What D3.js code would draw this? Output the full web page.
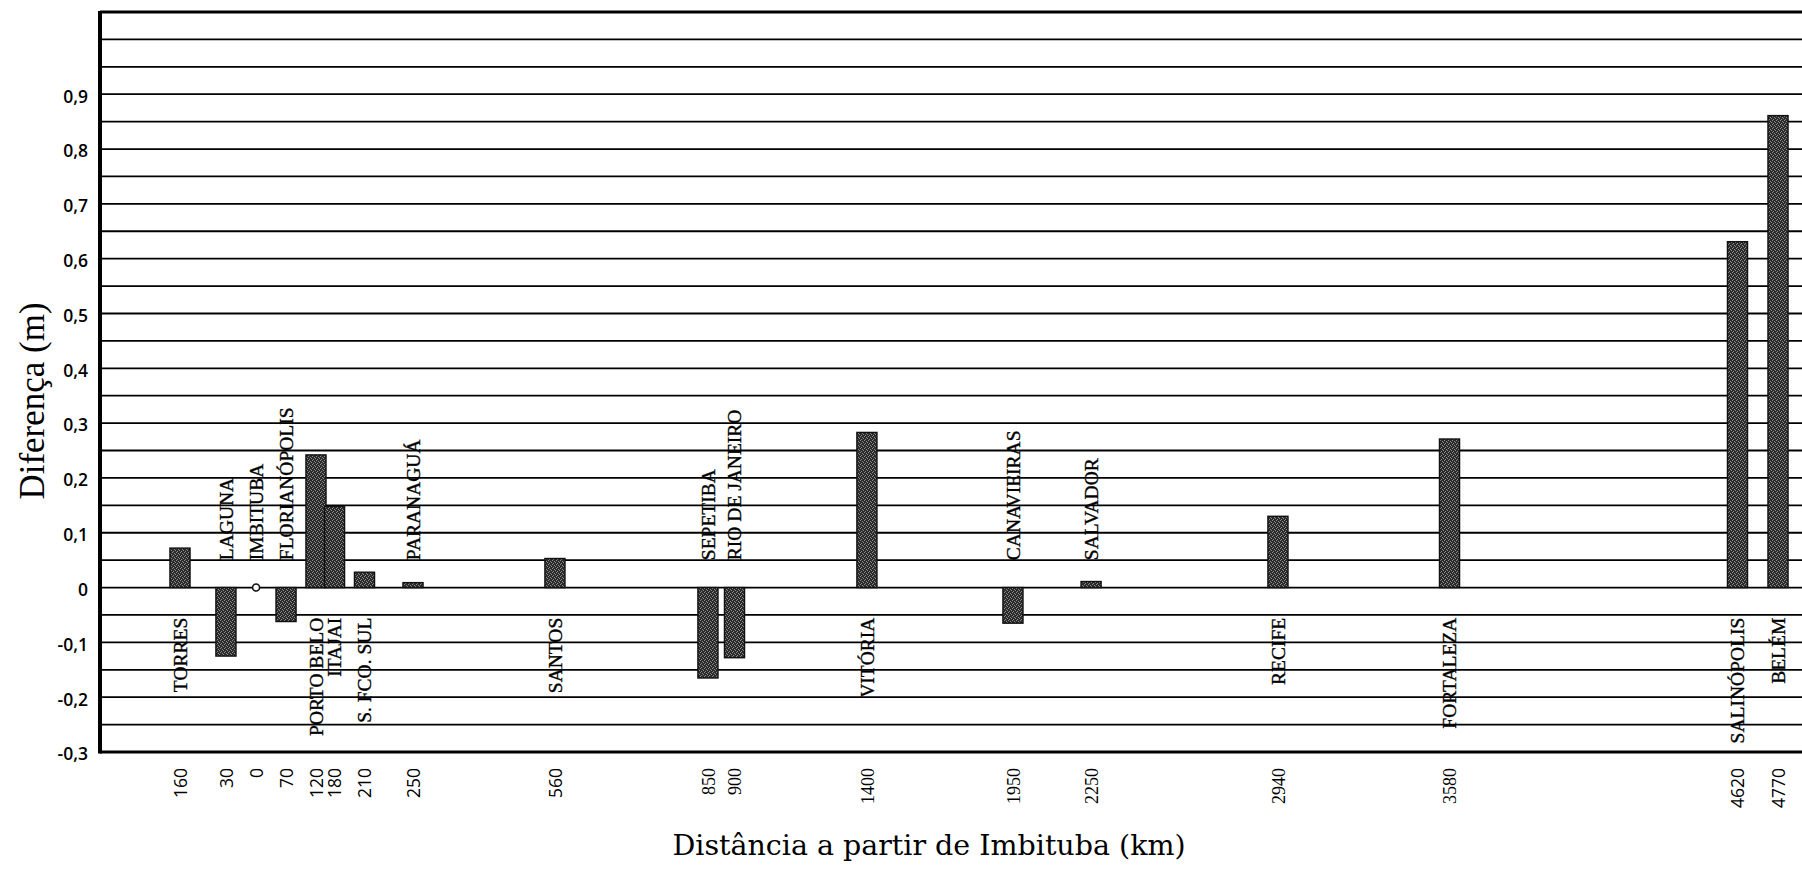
<!DOCTYPE html>
<html>
<head>
<meta charset="utf-8">
<script src="https://cdn.jsdelivr.net/npm/d3@7"></script>
<style>
  html, body { margin: 0; padding: 0; background: #fff; }
  svg { display: block; }
</style>
</head>
<body>
<svg id="chart" width="1802" height="874"></svg>
<script>
// ---------------- DATA ----------------
const stations = ["TORRES", "LAGUNA", "IMBITUBA", "FLORIANÓPOLIS", "PORTO BELO", "ITAJAI",
  "S. FCO. SUL", "PARANAGUÁ", "SANTOS", "SEPETIBA", "RIO DE JANEIRO", "VITÓRIA",
  "CANAVIEIRAS", "SALVADOR", "RECIFE", "FORTALEZA", "SALINÓPOLIS", "BELÉM"];
const distanceLabels = ["160", "30", "0", "70", "120", "180", "210", "250", "560", "850",
  "900", "1400", "1950", "2250", "2940", "3580", "4620", "4770"];
const differences = [0.072, -0.125, 0, -0.062, 0.242, 0.148, 0.028, 0.009, 0.053, -0.165,
  -0.128, 0.283, -0.065, 0.011, 0.130, 0.271, 0.631, 0.861];
// position of each station along the (non-linear) distance axis, in % of the axis length
const axisTrack = [4.7, 7.4, 9.17, 10.93, 12.69, 13.78, 15.54, 18.39, 26.73, 35.72,
  37.28, 45.06, 53.64, 58.23, 69.21, 79.29, 96.21, 98.59];
const yTickValues = [-0.3, -0.2, -0.1, 0, 0.1, 0.2, 0.3, 0.4, 0.5, 0.6, 0.7, 0.8, 0.9];
const serifDistanceLabels = ["850", "900", "1400", "1950", "2250", "2940", "3580"];
const yTitle = "Diferença (m)";
const xTitle = "Distância a partir de Imbituba (km)";

// ---------------- CHART ----------------
(function () {
const svg = d3.select("#chart");
const mLeft = 100, mRight = 1802, mTop = 12, mBottom = 752;

const x = d3.scaleLinear().domain([0, 100]).range([mLeft, mRight]);
const y = d3.scaleLinear().domain([-0.3, 1.05]).range([mBottom, mTop]);

const data = stations.map((s, i) => ({
  name: s, dist: distanceLabels[i], value: differences[i], pos: axisTrack[i]
}));

// texture for bars
const defs = svg.append("defs");
const pat = defs.append("pattern").attr("id", "stipple")
  .attr("width", 4).attr("height", 4).attr("patternUnits", "userSpaceOnUse");
pat.append("rect").attr("width", 4).attr("height", 4).attr("fill", "#2b2b2b");
[[0, 0], [2, 1], [1, 3], [3, 2]].forEach(([a, b]) =>
  pat.append("rect").attr("x", a).attr("y", b).attr("width", 1).attr("height", 1).attr("fill", "#8c8c8c"));

// gridlines every 0.05
const gridVals = d3.range(-0.25, 1.0001, 0.05).map(v => Math.round(v * 100) / 100);
svg.append("g").selectAll("line").data(gridVals).join("line")
  .attr("x1", mLeft).attr("x2", mRight)
  .attr("y1", d => y(d)).attr("y2", d => y(d))
  .attr("stroke", "#000").attr("stroke-width", 1.8);

// bars
const bw = x(1.18) - x(0);
svg.append("g").selectAll("rect").data(data.filter(d => d.value !== 0)).join("rect")
  .attr("x", d => x(d.pos) - bw / 2)
  .attr("width", bw)
  .attr("y", d => Math.min(y(d.value), y(0)))
  .attr("height", d => Math.abs(y(d.value) - y(0)))
  .attr("fill", "url(#stipple)")
  .attr("stroke", "#111").attr("stroke-width", 1.4);

// zero-valued station marker
svg.append("g").selectAll("circle").data(data.filter(d => d.value === 0)).join("circle")
  .attr("cx", d => x(d.pos)).attr("cy", y(0)).attr("r", 3.5)
  .attr("fill", "#fff").attr("stroke", "#111").attr("stroke-width", 1.6);

// station name labels
svg.append("g").selectAll("text").data(data).join("text")
  .attr("transform", d => d.value < 0.02
      ? `translate(${x(d.pos)},${y(0.05)}) rotate(-90)`
      : `translate(${x(d.pos)},${y(-0.055)}) rotate(-90)`)
  .attr("text-anchor", d => d.value < 0.02 ? "start" : "end")
  .attr("dy", "0.35em")
  .attr("font-family", "'Liberation Serif', 'Times New Roman', serif")
  .attr("font-size", 19.5)
  .attr("fill", "#000").attr("stroke", "#000").attr("stroke-width", 0.35)
  .text(d => d.name);

// frame line (top)
svg.append("line").attr("x1", mLeft).attr("x2", mRight).attr("y1", mTop).attr("y2", mTop)
  .attr("stroke", "#000").attr("stroke-width", 3);

// y axis
const loc = d3.formatLocale({decimal: ",", thousands: ".", grouping: [3], currency: ["", ""], minus: "-"});
const f1 = loc.format(".1f");
const yAxis = d3.axisLeft(y).tickValues(yTickValues).tickSize(0).tickPadding(12)
  .tickFormat(v => Math.abs(v) < 1e-9 ? "0" : f1(v));
const gy = svg.append("g").attr("transform", `translate(${mLeft},0)`).call(yAxis);
gy.select(".domain").remove();
gy.selectAll("text")
  .attr("font-family", "'Open Sans', 'Liberation Sans', sans-serif")
  .attr("font-weight", 600).attr("font-size", 17.5).attr("fill", "#000")
  .attr("dy", "0.45em");
svg.append("line").attr("x1", mLeft).attr("x2", mLeft).attr("y1", mTop - 1).attr("y2", mBottom + 1.5)
  .attr("stroke", "#000").attr("stroke-width", 4);

// x axis
const xAxis = d3.axisBottom(x).tickValues(axisTrack).tickSize(0)
  .tickFormat((v, i) => distanceLabels[i]);
const gx = svg.append("g").attr("transform", `translate(0,${mBottom})`).call(xAxis);
gx.select(".domain").remove();
gx.selectAll("text")
  .attr("transform", "translate(0,16) rotate(-90)")
  .attr("x", 0).attr("y", 0).attr("dy", "0.35em")
  .attr("text-anchor", "end")
  .attr("font-family", (v, i) => serifDistanceLabels.includes(distanceLabels[i])
      ? "'Liberation Serif', 'Times New Roman', serif"
      : "'Open Sans', 'DejaVu Sans', sans-serif")
  .attr("font-size", (v, i) => serifDistanceLabels.includes(distanceLabels[i]) ? 18 : 17.5)
  .attr("fill", "#000");
svg.append("line").attr("x1", mLeft).attr("x2", mRight).attr("y1", mBottom).attr("y2", mBottom)
  .attr("stroke", "#000").attr("stroke-width", 3);

// titles
svg.append("text")
  .attr("transform", `translate(44,401) rotate(-90)`)
  .attr("text-anchor", "middle")
  .attr("font-family", "'Liberation Serif', 'Times New Roman', serif")
  .attr("font-size", 35).attr("fill", "#000")
  .text(yTitle);
svg.append("text")
  .attr("x", 929).attr("y", 855)
  .attr("text-anchor", "middle")
  .attr("font-family", "'DejaVu Serif', 'Liberation Serif', serif")
  .attr("font-size", 28.5).attr("fill", "#000")
  .text(xTitle);
})();
</script>
</body>
</html>
